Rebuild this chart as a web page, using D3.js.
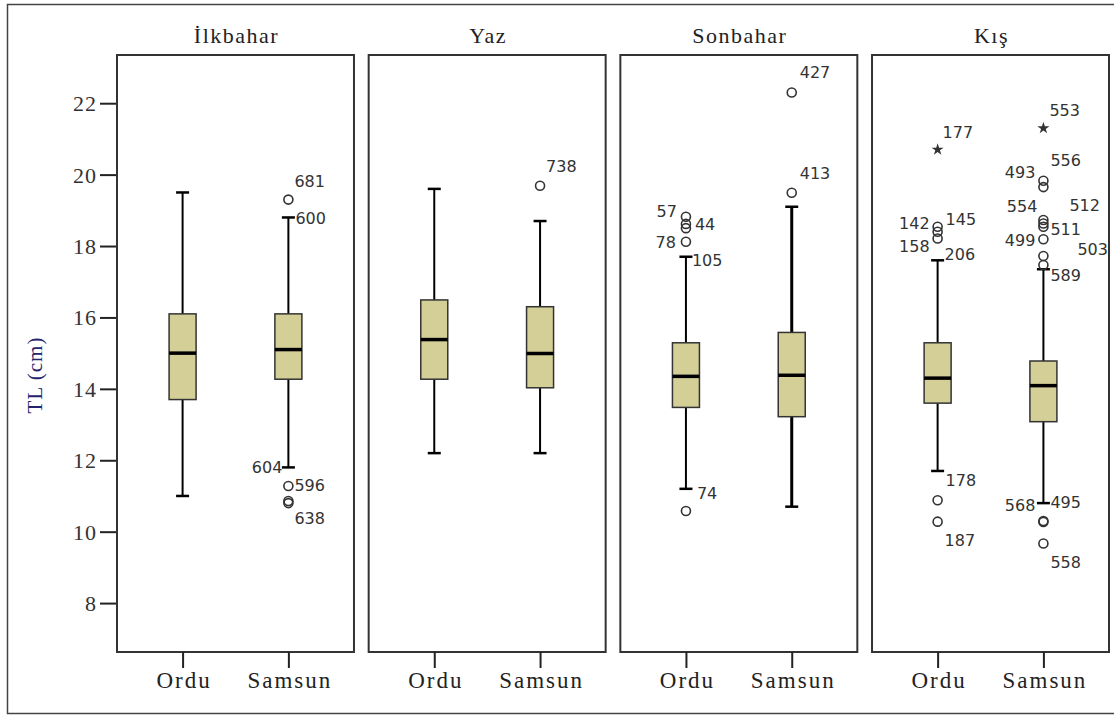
<!DOCTYPE html>
<html>
<head>
<meta charset="utf-8">
<script src="https://cdn.jsdelivr.net/npm/d3@7"></script>
<style>
  html, body { margin: 0; padding: 0; background: #fff; }
  svg { display: block; }
</style>
</head>
<body>
<svg id="chart" width="1114" height="716"></svg>
<script>
// ---------------- DATA ----------------
const seasons = ["İlkbahar", "Yaz", "Sonbahar", "Kış"];
const groups = ["Ordu", "Samsun"];
const yTicks = [8, 10, 12, 14, 16, 18, 20, 22];

// per season: [Ordu, Samsun]
const whiskerLow  = [[11.0, 11.8], [12.2, 12.2], [11.2, 10.7], [11.7, 10.8]];
const quartile1   = [[13.7, 14.27], [14.27, 14.03], [13.48, 13.22], [13.6, 13.08]];
const medians     = [[15.0, 15.1], [15.38, 14.99], [14.35, 14.38], [14.3, 14.09]];
const quartile3   = [[16.1, 16.1], [16.49, 16.3], [15.29, 15.58], [15.29, 14.78]];
const whiskerHigh = [[19.5, 18.8], [19.6, 18.7], [17.7, 19.1], [17.6, 17.35]];

// [seasonIndex, groupIndex, value, kind]  kind: "o" outlier, "*" extreme
const outliers = [
  [0, 1, 19.3, "o"], [0, 1, 11.28, "o"], [0, 1, 10.86, "o"], [0, 1, 10.8, "o"],
  [1, 1, 19.69, "o"],
  [2, 0, 18.82, "o"], [2, 0, 18.62, "o"], [2, 0, 18.5, "o"], [2, 0, 18.12, "o"], [2, 0, 10.58, "o"],
  [2, 1, 22.3, "o"], [2, 1, 19.49, "o"],
  [3, 0, 20.7, "*"], [3, 0, 18.54, "o"], [3, 0, 18.4, "o"], [3, 0, 18.21, "o"], [3, 0, 10.88, "o"], [3, 0, 10.28, "o"],
  [3, 1, 21.3, "*"], [3, 1, 19.83, "o"], [3, 1, 19.65, "o"], [3, 1, 18.73, "o"], [3, 1, 18.63, "o"],
  [3, 1, 18.54, "o"], [3, 1, 18.19, "o"], [3, 1, 17.72, "o"], [3, 1, 17.47, "o"],
  [3, 1, 10.3, "o"], [3, 1, 10.27, "o"], [3, 1, 9.67, "o"]
];

// [seasonIndex, groupIndex, value the label refers to, label text]
const pointLabels = [
  [0, 1, 19.3, "681"], [0, 1, 18.8, "600"], [0, 1, 11.8, "604"], [0, 1, 11.28, "596"], [0, 1, 10.8, "638"],
  [1, 1, 19.69, "738"],
  [2, 0, 18.82, "57"], [2, 0, 18.62, "44"], [2, 0, 18.12, "78"], [2, 0, 17.7, "105"], [2, 0, 11.2, "74"],
  [2, 1, 22.3, "427"], [2, 1, 19.49, "413"],
  [3, 0, 20.7, "177"], [3, 0, 18.54, "142"], [3, 0, 18.54, "145"], [3, 0, 18.21, "158"], [3, 0, 17.6, "206"],
  [3, 0, 11.7, "178"], [3, 0, 10.28, "187"],
  [3, 1, 21.3, "553"], [3, 1, 19.83, "556"], [3, 1, 19.83, "493"], [3, 1, 18.73, "554"], [3, 1, 18.63, "512"],
  [3, 1, 18.54, "511"], [3, 1, 18.19, "499"], [3, 1, 17.72, "503"], [3, 1, 17.35, "589"],
  [3, 1, 10.8, "568"], [3, 1, 10.8, "495"], [3, 1, 9.67, "558"]
];

// ---------------- LAYOUT / STYLE ----------------
// label nudges: [dx, dy, anchor]
const labelNudge = {
  "681": [6, -18, "start"], "600": [7, 1, "start"], "604": [-6, 0, "end"], "596": [6, -1, "start"], "638": [6, 15, "start"],
  "738": [6, -19, "start"],
  "57": [-9, -6, "end"], "44": [9, 0, "start"], "78": [-10, 0, "end"], "105": [6, 4, "start"], "74": [11, 4, "start"],
  "427": [8, -20, "start"], "413": [8, -20, "start"],
  "177": [5, -17, "start"], "142": [-8, -4, "end"], "145": [8, -8, "start"], "158": [-8, 8, "end"], "206": [7, -6, "start"],
  "178": [8, 9, "start"], "187": [7, 19, "start"],
  "553": [6, -18, "start"], "556": [7, -20, "start"], "493": [-8, -8, "end"], "554": [-6, -14, "end"], "512": [26, -18, "start"],
  "511": [7, 2, "start"], "499": [-8, 1, "end"], "503": [34, -7, "start"], "589": [7, 6, "start"],
  "568": [-8, 2, "end"], "495": [7, -1, "start"], "558": [7, 19, "start"]
};

const plotLeft = 117, plotRight = 1109, plotTop = 55, plotBottom = 652;
const boxW = 27, capW = 13;
const boxFill = "#d3cf97";
const serif = "'Liberation Serif', 'Times New Roman', serif";
const sans = "'DejaVu Sans', Verdana, sans-serif";

const svg = d3.select("#chart");

// outer frame
svg.append("rect")
  .attr("x", 7.5).attr("y", 4.5).attr("width", 1110).attr("height", 709)
  .attr("fill", "none").attr("stroke", "#444").attr("stroke-width", 1.5);

const xSeason = d3.scaleBand().domain(seasons).range([plotLeft, plotRight])
  .paddingInner(0.0584).paddingOuter(0);
const xGroup = d3.scalePoint().domain(groups).range([0, xSeason.bandwidth()]).padding(0.62);
const y = d3.scaleLinear().domain([6.63, 23.35]).range([plotBottom, plotTop]);

// y axis
const yAxis = d3.axisLeft(y).tickValues(yTicks).tickSize(17).tickPadding(3).tickFormat(d3.format("d"));
const gy = svg.append("g").attr("transform", `translate(${plotLeft},0)`).call(yAxis);
gy.select(".domain").remove();
gy.selectAll(".tick line").attr("stroke", "#222").attr("stroke-width", 2);
gy.selectAll(".tick text")
  .attr("font-family", serif).attr("font-size", 22).attr("fill", "#333")
  .attr("letter-spacing", "1px").attr("dy", "0.34em");

// y label
svg.append("text")
  .attr("transform", "translate(42,375) rotate(-90)")
  .attr("text-anchor", "middle")
  .attr("font-family", serif).attr("font-size", 21).attr("letter-spacing", "1px")
  .attr("fill", "#24246e")
  .text("TL (cm)");

seasons.forEach((s, si) => {
  const g = svg.append("g").attr("transform", `translate(${xSeason(s)},0)`);
  const bw = xSeason.bandwidth();

  // title
  g.append("text")
    .attr("x", bw / 2 + 1).attr("y", 43)
    .attr("text-anchor", "middle")
    .attr("font-family", serif).attr("font-size", 22).attr("letter-spacing", "1.5px")
    .attr("fill", "#222")
    .text(s);

  // frame
  g.append("rect")
    .attr("x", 0).attr("y", plotTop).attr("width", bw).attr("height", plotBottom - plotTop)
    .attr("fill", "#fff").attr("stroke", "#333").attr("stroke-width", 2);

  // bottom axis
  const xAxis = d3.axisBottom(xGroup).tickSize(16).tickPadding(8);
  const gx = g.append("g").attr("transform", `translate(0,${plotBottom})`).call(xAxis);
  gx.select(".domain").remove();
  gx.selectAll(".tick line").attr("stroke", "#222").attr("stroke-width", 2);
  gx.selectAll(".tick text")
    .attr("font-family", serif).attr("font-size", 23).attr("letter-spacing", "2px")
    .attr("fill", "#222").attr("dx", "1px").attr("dy", "0.5em");

  groups.forEach((grp, gi) => {
    const cx = xGroup(grp);
    const wLo = whiskerLow[si][gi], wHi = whiskerHigh[si][gi];
    const lo = quartile1[si][gi], hi = quartile3[si][gi], med = medians[si][gi];
    const thick = (si === 2 && gi === 1) ? 3 : 2;

    // whiskers
    g.append("line").attr("x1", cx).attr("x2", cx).attr("y1", y(hi)).attr("y2", y(wHi))
      .attr("stroke", "#000").attr("stroke-width", thick);
    g.append("line").attr("x1", cx).attr("x2", cx).attr("y1", y(lo)).attr("y2", y(wLo))
      .attr("stroke", "#000").attr("stroke-width", thick);
    [wLo, wHi].forEach(v => {
      g.append("line").attr("x1", cx - capW / 2).attr("x2", cx + capW / 2)
        .attr("y1", y(v)).attr("y2", y(v))
        .attr("stroke", "#000").attr("stroke-width", 2.5);
    });

    // box
    g.append("rect")
      .attr("x", cx - boxW / 2).attr("y", y(hi))
      .attr("width", boxW).attr("height", y(lo) - y(hi))
      .attr("fill", boxFill).attr("stroke", "#333").attr("stroke-width", 1.5);

    // median
    g.append("line").attr("x1", cx - boxW / 2).attr("x2", cx + boxW / 2)
      .attr("y1", y(med)).attr("y2", y(med))
      .attr("stroke", "#000").attr("stroke-width", 3.5);
  });

  // outliers
  outliers.filter(o => o[0] === si).forEach(o => {
    const cx = xGroup(groups[o[1]]);
    if (o[3] === "*") {
      g.append("path")
        .attr("d", d3.symbol(d3.symbolStar, 45)())
        .attr("transform", `translate(${cx},${y(o[2])})`)
        .attr("fill", "#333");
    } else {
      g.append("circle")
        .attr("cx", cx).attr("cy", y(o[2])).attr("r", 4.5)
        .attr("fill", "none").attr("stroke", "#333").attr("stroke-width", 1.6);
    }
  });

  // labels
  pointLabels.filter(l => l[0] === si).forEach(l => {
    const cx = xGroup(groups[l[1]]);
    const n = labelNudge[l[3]];
    g.append("text")
      .attr("x", cx + n[0]).attr("y", y(l[2]) + n[1])
      .attr("dy", "0.36em")
      .attr("text-anchor", n[2])
      .attr("font-family", sans).attr("font-size", 16)
      .attr("fill", "#333")
      .text(l[3]);
  });
});
</script>
</body>
</html>
